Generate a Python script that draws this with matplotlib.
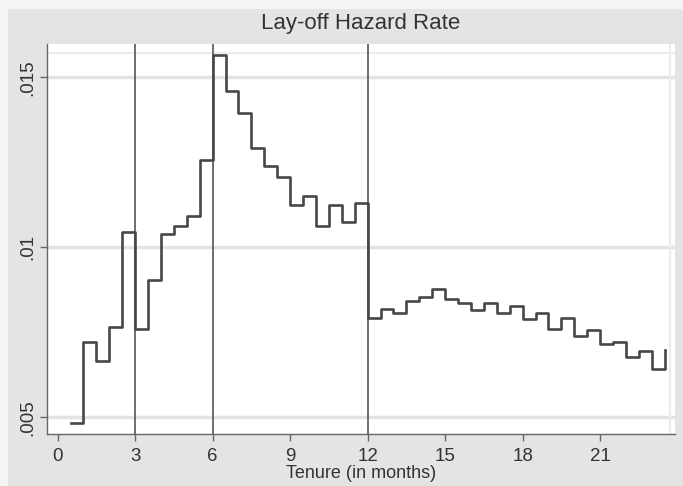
import matplotlib
matplotlib.use("Agg")
import matplotlib.pyplot as plt
from matplotlib.patches import Rectangle

plt.rcParams['font.family'] = ['Liberation Sans', 'DejaVu Sans']

# Tenure (months), start of each half-month interval
tenure = [0.5, 1.0, 1.5, 2.0, 2.5, 3.0, 3.5, 4.0, 4.5, 5.0, 5.5, 6.0, 6.5, 7.0, 7.5,
          8.0, 8.5, 9.0, 9.5, 10.0, 10.5, 11.0, 11.5, 12.0, 12.5, 13.0, 13.5, 14.0,
          14.5, 15.0, 15.5, 16.0, 16.5, 17.0, 17.5, 18.0, 18.5, 19.0, 19.5, 20.0,
          20.5, 21.0, 21.5, 22.0, 22.5, 23.0, 23.5]
hazard = [0.00482, 0.00721, 0.00667, 0.00767, 0.01044, 0.00759, 0.00904, 0.01038,
          0.01064, 0.01093, 0.01257, 0.01566, 0.01461, 0.01394, 0.01291, 0.01240,
          0.01208, 0.01125, 0.01152, 0.01064, 0.01125, 0.01075, 0.01131, 0.00793,
          0.00819, 0.00808, 0.00843, 0.00855, 0.00876, 0.00847, 0.00837, 0.00816,
          0.00837, 0.00806, 0.00827, 0.00789, 0.00806, 0.00760, 0.00791, 0.00739,
          0.00757, 0.00716, 0.00722, 0.00678, 0.00695, 0.00641, 0.00698]
vlines = [3, 6, 12]
xticks = [0, 3, 6, 9, 12, 15, 18, 21]
yticks = [0.005, 0.01, 0.015]
ytick_labels = ['.005', '.01', '.015']

W, H = 683, 486
fig = plt.figure(figsize=(W / 100, H / 100), dpi=100, facecolor='#e4e4e4')
# light border strips on left and top
fig.patches.append(Rectangle((0, 0), 8 / W, 1, transform=fig.transFigure,
                             facecolor='#f4f4f4', edgecolor='none', zorder=0))
fig.patches.append(Rectangle((0, 1 - 9 / H), 1, 9 / H, transform=fig.transFigure,
                             facecolor='#f4f4f4', edgecolor='none', zorder=0))

ax = fig.add_axes([47 / W, 1 - 434 / H, (675 - 47) / W, (434 - 44) / H])
ax.set_facecolor('white')
ax.set_xlim(-0.41, 23.9)
ax.set_ylim(0.00451, 0.01598)

for y in yticks:
    ax.axhline(y, color='#e3e3e3', lw=2.5, zorder=1)
ax.axhline(0.01571, color='#ececec', lw=1.5, zorder=1)
ax.axvline(23.71, color='#ececec', lw=1.5, zorder=1)

for xv in vlines:
    ax.axvline(xv, color='#555555', lw=1.2, zorder=2)

ax.plot(tenure, hazard, drawstyle='steps-post', color='#474747', lw=1.9, zorder=3)

for s in ['top', 'right']:
    ax.spines[s].set_visible(False)
for s in ['left', 'bottom']:
    ax.spines[s].set_color('#666666')
    ax.spines[s].set_linewidth(1.0)

ax.set_xticks(xticks)
ax.set_xticklabels([str(t) for t in xticks], fontsize=13.5, color='#333333')
ax.set_yticks(yticks)
ax.set_yticklabels(ytick_labels, fontsize=13.5, color='#333333', rotation=90, va='center')
ax.tick_params(axis='x', direction='out', length=5, width=1, color='#666666', pad=5)
ax.tick_params(axis='y', direction='out', length=5, width=1, color='#666666', pad=3)

ax.set_xlabel('Tenure (in months)', fontsize=13, color='#333333', labelpad=0)
fig.text((47 + 675) / 2 / W, 1 - 23 / H, 'Lay-off Hazard Rate', ha='center', va='center',
         fontsize=16, color='#333333')

fig.savefig('out.png', dpi=100, facecolor=fig.get_facecolor())
